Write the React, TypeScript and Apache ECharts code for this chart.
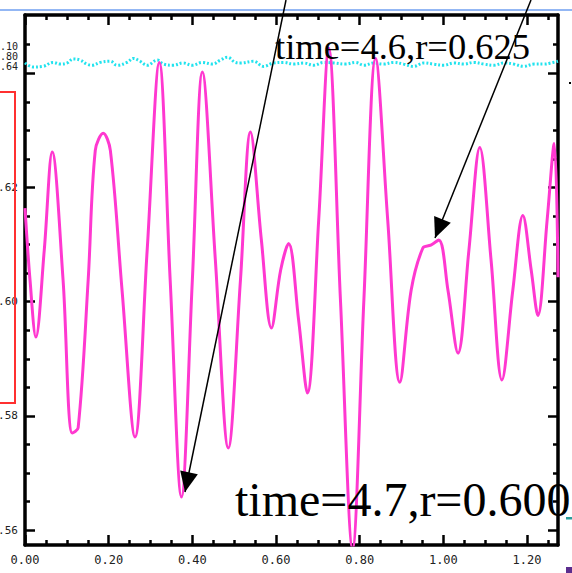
import React, { useEffect, useRef } from 'react';
import * as echarts from 'echarts';

// ---- data ----
const X_MIN = 0;
const X_MAX = 1.274;
const Y_MIN = 0.5574;
const Y_MAX = 0.6502;

const X_MAJOR = [0, 0.2, 0.4, 0.6, 0.8, 1.0, 1.2];
const X_MINOR = [0.05, 0.1, 0.15, 0.25, 0.3, 0.35, 0.45, 0.5, 0.55, 0.65, 0.7, 0.75, 0.85, 0.9, 0.95, 1.05, 1.1, 1.15, 1.25];
const Y_MAJOR = [0.56, 0.58, 0.6, 0.62, 0.64];
const Y_LABELS = [0.56, 0.58, 0.6, 0.62];
const Y_MINOR = [0.565, 0.57, 0.575, 0.585, 0.59, 0.595, 0.605, 0.61, 0.615, 0.625, 0.63, 0.635, 0.645];
const STRAY_LABELS = ['0.10', '0.80', '0.64'];

const rTime = [0, 0.012, 0.026, 0.046, 0.065, 0.091, 0.113, 0.127, 0.151, 0.168, 0.187, 0.204, 0.232, 0.263, 0.292, 0.321, 0.347, 0.374, 0.4, 0.424, 0.455, 0.486, 0.515, 0.539, 0.565, 0.589, 0.611, 0.63, 0.654, 0.675, 0.702, 0.726, 0.754, 0.783, 0.81, 0.838, 0.867, 0.896, 0.923, 0.951, 0.97, 0.989, 1.011, 1.035, 1.061, 1.087, 1.114, 1.14, 1.166, 1.19, 1.21, 1.226, 1.248, 1.265, 1.274];
const rValue = [0.6164, 0.6038, 0.5938, 0.609, 0.6262, 0.6038, 0.577, 0.5779, 0.6038, 0.6265, 0.6295, 0.6265, 0.602, 0.5763, 0.609, 0.6419, 0.6038, 0.5658, 0.6038, 0.6402, 0.6073, 0.5744, 0.6038, 0.6297, 0.6108, 0.5954, 0.6055, 0.6102, 0.5968, 0.584, 0.6143, 0.6444, 0.6003, 0.5568, 0.6003, 0.6426, 0.6143, 0.5859, 0.602, 0.6094, 0.6099, 0.6108, 0.602, 0.591, 0.609, 0.627, 0.6073, 0.5863, 0.602, 0.6151, 0.6055, 0.5976, 0.6143, 0.6277, 0.6043];

const refTime = [0, 0.019, 0.043, 0.067, 0.084, 0.101, 0.115, 0.132, 0.148, 0.16, 0.18, 0.204, 0.22, 0.244, 0.259, 0.275, 0.292, 0.316, 0.331, 0.354, 0.378, 0.4, 0.424, 0.448, 0.467, 0.484, 0.503, 0.515, 0.546, 0.57, 0.594, 0.618, 0.642, 0.666, 0.69, 0.714, 0.738, 0.766, 0.79, 0.81, 0.834, 0.857, 0.881, 0.905, 0.929, 0.953, 0.977, 1.001, 1.025, 1.049, 1.073, 1.097, 1.121, 1.145, 1.169, 1.192, 1.217, 1.241, 1.257, 1.274];
const refValue = [0.6418, 0.6411, 0.6412, 0.6419, 0.6416, 0.6418, 0.6425, 0.6423, 0.6416, 0.6414, 0.6419, 0.6421, 0.6414, 0.6419, 0.6426, 0.6421, 0.6414, 0.6423, 0.6416, 0.6414, 0.6418, 0.6414, 0.6419, 0.6416, 0.6423, 0.6428, 0.6419, 0.6418, 0.6421, 0.6412, 0.6418, 0.6419, 0.6416, 0.6418, 0.6414, 0.6419, 0.6418, 0.6416, 0.6419, 0.6414, 0.6418, 0.6416, 0.6419, 0.6416, 0.6412, 0.6418, 0.6416, 0.6414, 0.6418, 0.6416, 0.6419, 0.6416, 0.6414, 0.6418, 0.6416, 0.6412, 0.6416, 0.6416, 0.6418, 0.6421];

const ANNOT_TOP = 'time=4.6,r=0.625';
const ANNOT_BOTTOM = 'time=4.7,r=0.600';

const LABEL_FONT = '"DejaVu Sans Mono", monospace';

function arrowHead(x1: number, y1: number, x2: number, y2: number, len: number, half: number) {
  const dx = x2 - x1;
  const dy = y2 - y1;
  const l = Math.sqrt(dx * dx + dy * dy);
  const ux = dx / l;
  const uy = dy / l;
  const bx = x2 - ux * len;
  const by = y2 - uy * len;
  const nx = -uy;
  const ny = ux;
  return [
    [x2, y2],
    [bx + nx * half, by + ny * half],
    [bx - nx * half, by - ny * half],
  ];
}

export default function App() {
  const ref = useRef<HTMLDivElement>(null);

  useEffect(() => {
    if (!ref.current) return;
    const chart = echarts.init(ref.current, undefined, { renderer: 'svg' });

    const baseX = (position: string, ticks: number[], len: number, showLine: boolean, labels: boolean) => ({
      type: 'value',
      position,
      min: X_MIN,
      max: X_MAX,
      axisLine: { show: showLine, onZero: false, lineStyle: { color: '#000', width: 3.5 } },
      axisTick: { show: true, inside: true, length: len, customValues: ticks, lineStyle: { color: '#000', width: 2.5 } },
      axisLabel: labels
        ? { show: true, customValues: X_MAJOR, margin: 9, color: '#222', fontSize: 12, fontFamily: LABEL_FONT, formatter: (v: number) => v.toFixed(2) }
        : { show: false },
      splitLine: { show: false },
    });
    const baseY = (position: string, ticks: number[], len: number, showLine: boolean, labels: boolean) => ({
      type: 'value',
      position,
      min: Y_MIN,
      max: Y_MAX,
      axisLine: { show: showLine, onZero: false, lineStyle: { color: '#000', width: 3.5 } },
      axisTick: { show: true, inside: true, length: len, customValues: ticks, lineStyle: { color: '#000', width: 2.5 } },
      axisLabel: labels
        ? { show: true, customValues: Y_LABELS, margin: 7, color: '#222', fontSize: 11, fontFamily: LABEL_FONT, formatter: (v: number) => v.toFixed(2) }
        : { show: false },
      splitLine: { show: false },
    });

    const a1 = { x1: 286, y1: 0, x2: 185, y2: 492 };
    const a2 = { x1: 531, y1: 0, x2: 435, y2: 238 };

    const option: any = {
      animation: false,
      backgroundColor: '#fff',
      grid: { left: 25, right: 14, top: 15, bottom: 28, containLabel: false, outerBoundsMode: 'none' },
      xAxis: [
        baseX('bottom', X_MAJOR, 10, true, true),
        baseX('top', X_MAJOR, 10, true, false),
        baseX('bottom', X_MINOR, 5, false, false),
        baseX('top', X_MINOR, 5, false, false),
      ],
      yAxis: [
        baseY('left', Y_MAJOR, 10, true, true),
        baseY('right', Y_MAJOR, 10, true, false),
        baseY('left', Y_MINOR, 5, false, false),
        baseY('right', Y_MINOR, 5, false, false),
      ],
      series: [
        {
          type: 'line',
          name: 'reference',
          xAxisIndex: 0,
          yAxisIndex: 0,
          data: refTime.map((t, i) => [t, refValue[i]]),
          showSymbol: false,
          smooth: 0.4,
          lineStyle: { color: '#22e3ee', width: 3, type: [2, 2] },
        },
        {
          type: 'line',
          name: 'r',
          xAxisIndex: 0,
          yAxisIndex: 0,
          data: rTime.map((t, i) => [t, rValue[i]]),
          showSymbol: false,
          smooth: 0.35,
          lineStyle: { color: '#ff38d0', width: 3 },
        },
      ],
      graphic: [
        { type: 'line', z: 100, shape: { x1: 0, y1: 10, x2: 572, y2: 10 }, style: { stroke: '#6f9ff0', lineWidth: 1.5 } },
        { type: 'rect', z: 100, shape: { x: -5, y: 92, width: 20, height: 311 }, style: { fill: 'none', stroke: '#ff3030', lineWidth: 2 } },
        {
          type: 'text', z: 100, x: 18, y: 46,
          style: { text: STRAY_LABELS[0], align: 'right', verticalAlign: 'middle', font: '10px ' + LABEL_FONT, fill: '#222' },
        },
        {
          type: 'text', z: 100, x: 18, y: 56,
          style: { text: STRAY_LABELS[1], align: 'right', verticalAlign: 'middle', font: '10px ' + LABEL_FONT, fill: '#222' },
        },
        {
          type: 'text', z: 100, x: 18, y: 66,
          style: { text: STRAY_LABELS[2], align: 'right', verticalAlign: 'middle', font: '10px ' + LABEL_FONT, fill: '#222' },
        },
        { type: 'line', z: 100, shape: a1, style: { stroke: '#000', lineWidth: 1.5 } },
        { type: 'polygon', z: 100, shape: { points: arrowHead(a1.x1, a1.y1, a1.x2, a1.y2, 20, 9) }, style: { fill: '#000' } },
        { type: 'line', z: 100, shape: a2, style: { stroke: '#000', lineWidth: 1.5 } },
        { type: 'polygon', z: 100, shape: { points: arrowHead(a2.x1, a2.y1, a2.x2, a2.y2, 20, 9) }, style: { fill: '#000' } },
        {
          type: 'text', z: 101, x: 275, y: 46,
          style: { text: ANNOT_TOP, align: 'left', verticalAlign: 'middle', font: '36.5px "Liberation Serif", "Times New Roman", serif', fill: '#000' },
        },
        {
          type: 'text', z: 101, x: 235, y: 499,
          style: { text: ANNOT_BOTTOM, align: 'left', verticalAlign: 'middle', font: '48px "Liberation Serif", "Times New Roman", serif', fill: '#000' },
        },
        { type: 'rect', z: 100, shape: { x: 566, y: 517, width: 6, height: 2.5 }, style: { fill: '#2a9d9d' } },
        { type: 'rect', z: 100, shape: { x: 566, y: 567, width: 6, height: 6 }, style: { fill: '#5b2d8e' } },
        { type: 'rect', z: 100, shape: { x: 569, y: 82, width: 2, height: 2 }, style: { fill: '#000' } },
      ],
    };

    chart.setOption(option);
    return () => {
      chart.dispose();
    };
  }, []);

  return (
    <div
      ref={ref}
      style={{ position: 'fixed', left: 0, top: 0, width: 572, height: 573, background: '#fff' }}
    />
  );
}
